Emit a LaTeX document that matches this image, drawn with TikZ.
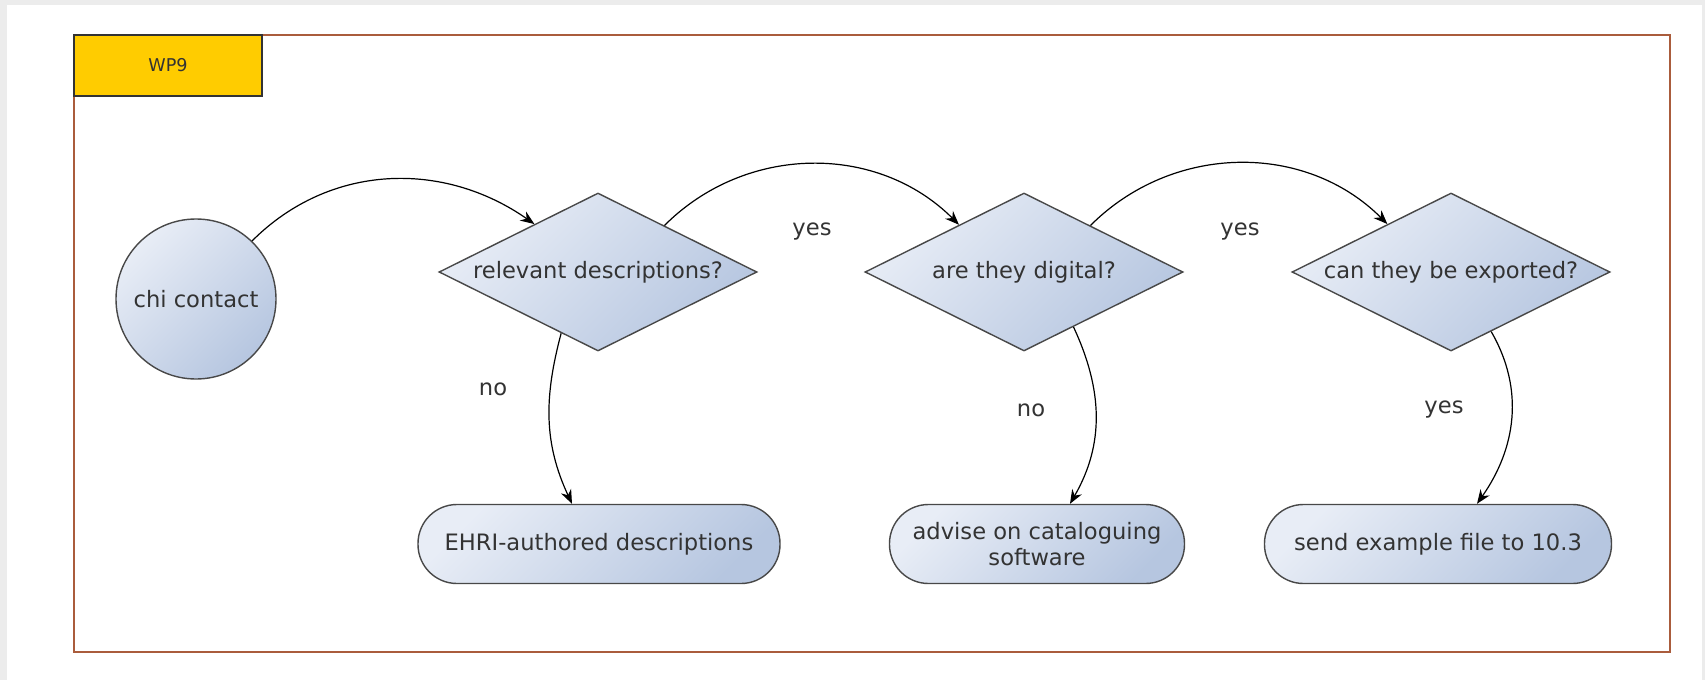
\documentclass[tikz,border=0pt]{standalone}
\usepackage{fontspec}
\setmainfont{DejaVu Sans}
\usetikzlibrary{arrows.meta}
\usetikzlibrary{shapes.geometric}
\usetikzlibrary{calc,positioning}

\definecolor{wpframe}{RGB}{170,92,60}
\definecolor{wpgold}{RGB}{255,204,0}
\definecolor{boxlight}{RGB}{232,237,246}
\definecolor{boxdark}{RGB}{182,198,224}
\definecolor{boxline}{RGB}{72,72,72}
\definecolor{pagegray}{RGB}{236,236,236}

\begin{document}
\begin{tikzpicture}[>=Stealth, x=0.5pt, y=-0.5pt,
    every node/.style={font=\fontsize{11.3}{13}\selectfont, text=black!80},
    shaded/.style={draw=boxline, line width=0.7pt, top color=boxlight, bottom color=boxdark, shading angle=45},
    decision/.style={shaded, diamond, aspect=2, inner sep=0pt, minimum width=159pt, minimum height=79pt},
    outcome/.style={shaded, rectangle, rounded corners=19.5pt, minimum height=39.5pt, align=center},
    answer/.style={inner sep=1pt},
    flow/.style={->, line width=0.6pt, >={Stealth[length=7pt,width=5.5pt]}}]

    \useasboundingbox (0,0) rectangle (1705,680);
    \fill[pagegray] (0,0) rectangle (1705,680);
    \fill[white] (7,5) rectangle (1702,680);

    % swimlane
    \draw[wpframe, line width=1.3pt] (74,35) rectangle (1670,652);
    \node[draw=black!80, fill=wpgold, line width=0.7pt, minimum width=94pt, minimum height=30.5pt, font=\fontsize{8.8}{10}\selectfont] (wp) at (168,65.5) {WP9};

    \node[shaded, circle, minimum size=80pt, inner sep=0pt] (chi) at (196,299) {chi contact};

    \node[decision] (rel) at (598,272) {relevant descriptions?};
    \node[decision] (dig) at (1024,272) {are they digital?};
    \node[decision] (exp) at (1451,272) {can they be exported?};

    \node[outcome, minimum width=181pt] (ehri) at (599,544) {EHRI-authored descriptions};
    \node[outcome, minimum width=147.5pt] (adv) at (1037,544) {advise on cataloguing\\software};
    \node[outcome, minimum width=173.5pt] (send) at (1438,544) {send example file to 10.3};

    \draw[flow] (chi.46) to[out=45,in=145] (rel.143);
    \draw[flow] (rel.35) to[out=45,in=135] (dig.144);
    \draw[flow] (dig.35) to[out=45,in=135] (exp.143);

    \draw[flow] (rel.239) to[out=-105,in=115] ([xshift=-13.5pt]ehri.north);
    \draw[flow] (dig.-48) to[out=-65,in=60] ([xshift=16.5pt]adv.north);
    \draw[flow] (exp.-56) to[out=-60,in=55] ([xshift=19.5pt]send.north);

    \node[answer] (yes1) at (812,232) {yes};
    \node[answer] (yes2) at (1240,232) {yes};
    \node[answer] (no1) at (493,389) {no};
    \node[answer] (no2) at (1031,410) {no};
    \node[answer] (yes3) at (1444,410) {yes};

\end{tikzpicture}
\end{document}
